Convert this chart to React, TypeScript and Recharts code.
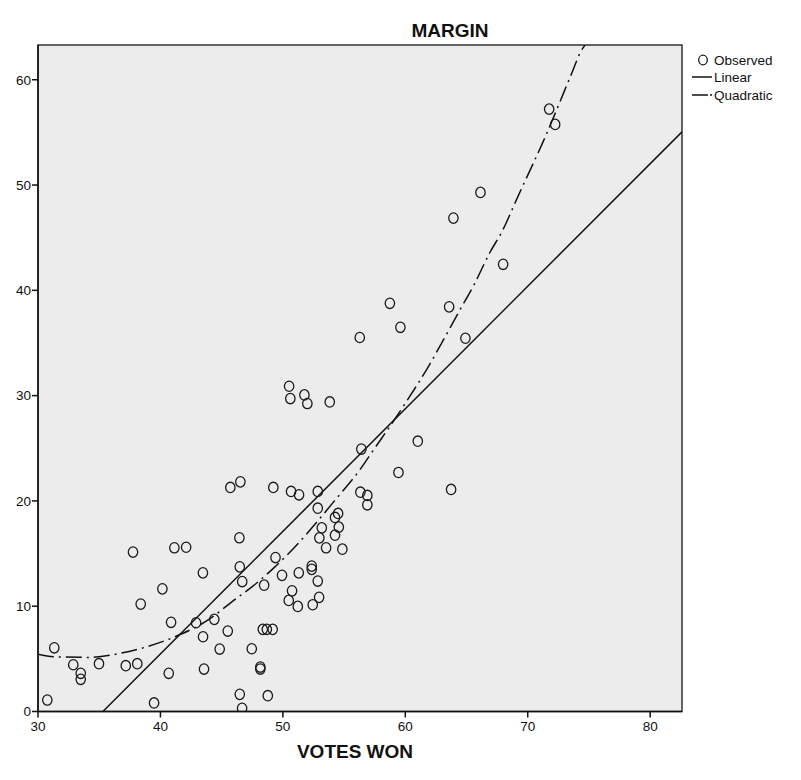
import React from "react";
import {
  ComposedChart,
  Scatter,
  Line,
  XAxis,
  YAxis,
  CartesianGrid,
  ReferenceArea,
} from "recharts";

const observedVotes = [
  30.76, 31.33, 32.88, 33.49, 33.49, 34.98, 37.17, 38.11, 37.76, 38.39,
  39.48, 40.16, 40.68, 40.87, 41.14, 42.1, 42.91, 43.47, 43.48, 43.56,
  44.4, 44.84, 45.5, 45.71, 46.45, 46.48, 46.53, 46.68, 46.48, 46.67,
  47.46, 48.16, 48.16, 48.36, 48.69, 49.17, 48.47, 48.77, 49.4, 49.22,
  49.93, 50.48, 50.51, 50.61, 50.67, 50.75, 51.22, 51.3, 51.32, 51.76,
  52.0, 52.36, 52.36, 52.44, 52.85, 52.85, 52.85, 52.96, 52.98, 53.18,
  53.53, 53.83, 54.26, 54.51, 54.57, 54.26, 54.86, 56.28, 56.33, 56.41,
  56.9, 56.9, 58.74, 59.44, 59.6, 61.02, 63.58, 63.74, 63.93, 64.91,
  66.14, 67.99, 71.75, 72.24,
];
const observedMargin = [
  1.09, 6.05, 4.44, 3.63, 3.06, 4.54, 4.35, 4.54, 15.14, 10.2,
  0.81, 11.65, 3.63, 8.47, 15.55, 15.6, 8.43, 13.17, 7.1, 4.03,
  8.75, 5.93, 7.64, 21.28, 16.5, 13.74, 21.81, 12.34, 1.63, 0.3,
  5.96, 4.22, 4.03, 7.8, 7.8, 7.8, 12.0, 1.5, 14.62, 21.28,
  12.93, 10.55, 30.89, 29.72, 20.9, 11.46, 9.98, 13.17, 20.58, 30.07,
  29.25, 13.81, 13.5, 10.14, 20.9, 19.31, 12.39, 10.84, 16.49, 17.44,
  15.55, 29.4, 18.43, 18.81, 17.51, 16.75, 15.42, 35.52, 20.83, 24.92,
  20.52, 19.63, 38.77, 22.7, 36.49, 25.67, 38.43, 21.09, 46.86, 35.45,
  49.3, 42.47, 57.21, 55.76,
];

const linearVotes = [35.3, 82.6];
const linearMargin = [0, 55.05];

const quadVotes = [
  30, 31.25, 34.25, 36.7, 38.88, 41.19, 44.05, 45.83, 47.6, 49.22, 51.0,
  52.9, 54.26, 56.31, 57.39, 58.9, 60.25, 62.03, 62.9, 64.48, 65.6,
  66.93, 67.88, 69.24, 70.06, 71.42, 72.51, 73.46, 74.55, 74.7,
];
const quadMargin = [
  5.43, 5.2, 5.14, 5.52, 6.15, 7.1, 8.81, 10.42, 11.95, 13.59, 15.64,
  18.17, 20.07, 22.99, 24.82, 27.35, 29.72, 33.05, 34.85, 38.18, 40.5,
  43.64, 45.54, 49.02, 51.08, 54.55, 57.56, 60.24, 63.09, 63.3,
];

const xTicks = [30, 40, 50, 60, 70, 80];
const yTicks = [0, 10, 20, 30, 40, 50, 60];
const xDomain = [30, 82.6];
const yDomain = [0, 63.3];

const observed = observedVotes.map((v, i) => ({ x: v, y: observedMargin[i] }));
const linear = linearVotes.map((v, i) => ({ x: v, y: linearMargin[i] }));
const quadratic = quadVotes.map((v, i) => ({ x: v, y: quadMargin[i] }));

const FONT = "'Liberation Sans', Arial, sans-serif";

const Ring = (props: any) => {
  const { cx, cy } = props;
  if (cx == null || cy == null) return null;
  return (
    <ellipse cx={cx} cy={cy} rx={4.7} ry={5.2} fill="none" stroke="#1a1a1a" strokeWidth={1.3} />
  );
};

export default function App() {
  const W = 793;
  const H = 772;
  return (
    <div style={{ position: "relative", width: W, height: H }}>
      <ComposedChart
        width={W}
        height={H}
        margin={{ top: 37, right: 119, bottom: 38.5, left: 0 }}
      >
        <CartesianGrid fill="#ececec" horizontal={false} vertical={false} />
        <XAxis
          type="number"
          dataKey="x"
          domain={xDomain}
          ticks={xTicks}
          allowDataOverflow
          height={30}
          axisLine={{ stroke: "#111", strokeWidth: 1.5 }}
          tickLine={{ stroke: "#111", strokeWidth: 1.5 }}
          tickSize={6}
          tickMargin={4}
          tick={{ fill: "#111", fontSize: 13.5, fontFamily: FONT }}
        />
        <YAxis
          type="number"
          dataKey="y"
          domain={yDomain}
          ticks={yTicks}
          allowDataOverflow
          width={30}
          axisLine={{ stroke: "#111", strokeWidth: 1.5 }}
          tickLine={{ stroke: "#111", strokeWidth: 1.5 }}
          tickSize={6}
          tickMargin={1}
          tick={{ fill: "#111", fontSize: 13.5, fontFamily: FONT }}
        />
        <ReferenceArea
          x1={xDomain[0]}
          x2={xDomain[1]}
          y1={yDomain[0]}
          y2={yDomain[1]}
          fill="none"
          stroke="#333"
          strokeWidth={1.5}
        />
        <Line
          data={linear}
          dataKey="y"
          type="linear"
          stroke="#111"
          strokeWidth={1.5}
          dot={false}
          activeDot={false}
          isAnimationActive={false}
        />
        <Line
          data={quadratic}
          dataKey="y"
          type="monotone"
          stroke="#111"
          strokeWidth={1.5}
          strokeDasharray="16 5 2 5"
          dot={false}
          activeDot={false}
          isAnimationActive={false}
        />
        <Scatter data={observed} dataKey="y" shape={Ring} isAnimationActive={false} />
      </ComposedChart>
      <svg
        width={W}
        height={H}
        style={{ position: "absolute", left: 0, top: 0, pointerEvents: "none" }}
      >
        <text x={442} y={29} textAnchor="middle" fontFamily={FONT} fontWeight="bold" fontSize={19} fill="#111">
          MARGIN
        </text>
        <text x={347} y={750} textAnchor="middle" fontFamily={FONT} fontWeight="bold" fontSize={19} fill="#111">
          VOTES WON
        </text>
        <ellipse cx={695} cy={52} rx={4.3} ry={4.8} fill="none" stroke="#1a1a1a" strokeWidth={1.3} />
        <text x={706} y={57} fontFamily={FONT} fontSize={13.5} fill="#111">Observed</text>
        <line x1={684} y1={69} x2={704} y2={69} stroke="#111" strokeWidth={1.5} />
        <text x={706} y={74} fontFamily={FONT} fontSize={13.5} fill="#111">Linear</text>
        <line x1={684} y1={87} x2={700} y2={87} stroke="#111" strokeWidth={1.5} />
        <line x1={702} y1={87} x2={704} y2={87} stroke="#111" strokeWidth={1.5} />
        <text x={706} y={92} fontFamily={FONT} fontSize={13.5} fill="#111">Quadratic</text>
      </svg>
    </div>
  );
}
